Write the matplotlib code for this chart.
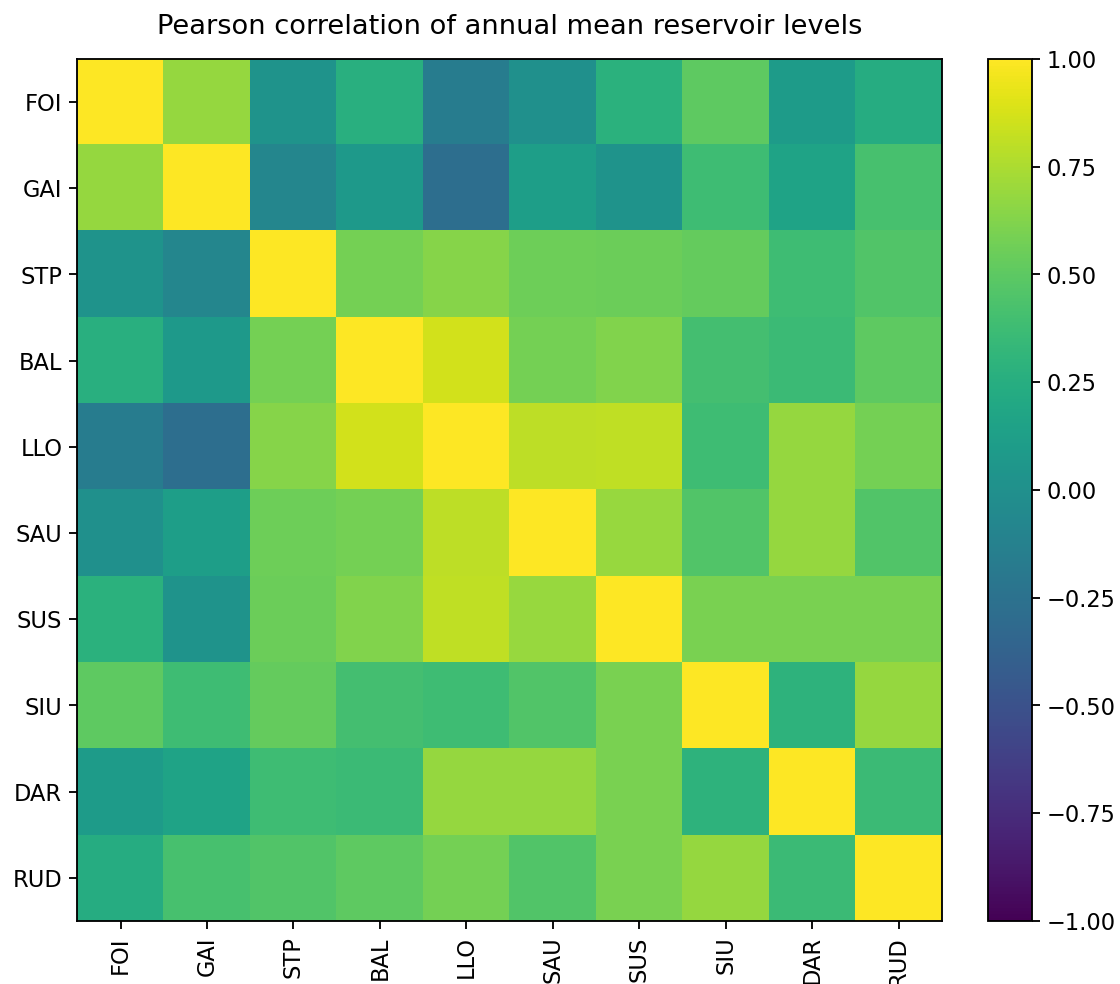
import numpy as np
import matplotlib
matplotlib.use("Agg")
import matplotlib.pyplot as plt

sites = ['FOI', 'GAI', 'STP', 'BAL', 'LLO', 'SAU', 'SUS', 'SIU', 'DAR', 'RUD']

# correlation matrix, row by row (symmetric)
corrFOI = [1.00, 0.68, 0.03, 0.26, -0.16, 0.00, 0.28, 0.50, 0.10, 0.24]
corrGAI = [0.68, 1.00, -0.08, 0.08, -0.28, 0.12, 0.03, 0.38, 0.16, 0.42]
corrSTP = [0.03, -0.08, 1.00, 0.58, 0.64, 0.56, 0.55, 0.53, 0.38, 0.46]
corrBAL = [0.26, 0.08, 0.58, 1.00, 0.86, 0.58, 0.62, 0.40, 0.36, 0.50]
corrLLO = [-0.16, -0.28, 0.64, 0.86, 1.00, 0.80, 0.81, 0.38, 0.68, 0.58]
corrSAU = [0.00, 0.12, 0.56, 0.58, 0.80, 1.00, 0.69, 0.46, 0.68, 0.46]
corrSUS = [0.28, 0.03, 0.55, 0.62, 0.81, 0.69, 1.00, 0.60, 0.60, 0.60]
corrSIU = [0.50, 0.38, 0.53, 0.40, 0.38, 0.46, 0.60, 1.00, 0.29, 0.68]
corrDAR = [0.10, 0.16, 0.38, 0.36, 0.68, 0.68, 0.60, 0.29, 1.00, 0.36]
corrRUD = [0.24, 0.42, 0.46, 0.50, 0.58, 0.46, 0.60, 0.68, 0.36, 1.00]

corrMatrix = np.array([corrFOI, corrGAI, corrSTP, corrBAL, corrLLO,
                       corrSAU, corrSUS, corrSIU, corrDAR, corrRUD])

plt.rcParams['xtick.major.size'] = 4.2
plt.rcParams['ytick.major.size'] = 4.2
plt.rcParams['xtick.major.width'] = 0.95
plt.rcParams['ytick.major.width'] = 0.95
plt.rcParams['axes.linewidth'] = 0.95

fig = plt.figure(figsize=(8, 7.03), dpi=140)
ax = fig.add_axes([0.069, 0.064, 0.772, 0.876])
cax = fig.add_axes([0.882, 0.064, 0.039, 0.876])

im = ax.imshow(corrMatrix, cmap='viridis', vmin=-1, vmax=1, aspect='auto')
ax.set_xticks(np.arange(len(sites)))
ax.set_yticks(np.arange(len(sites)))
ax.set_xticklabels(sites, rotation=90)
ax.set_yticklabels(sites)
ax.tick_params(labelsize=11.6)
ax.set_title('Pearson correlation of annual mean reservoir levels', fontsize=14, pad=13)

cb = fig.colorbar(im, cax=cax)
cb.ax.tick_params(labelsize=11.6)

plt.savefig('out.png')
